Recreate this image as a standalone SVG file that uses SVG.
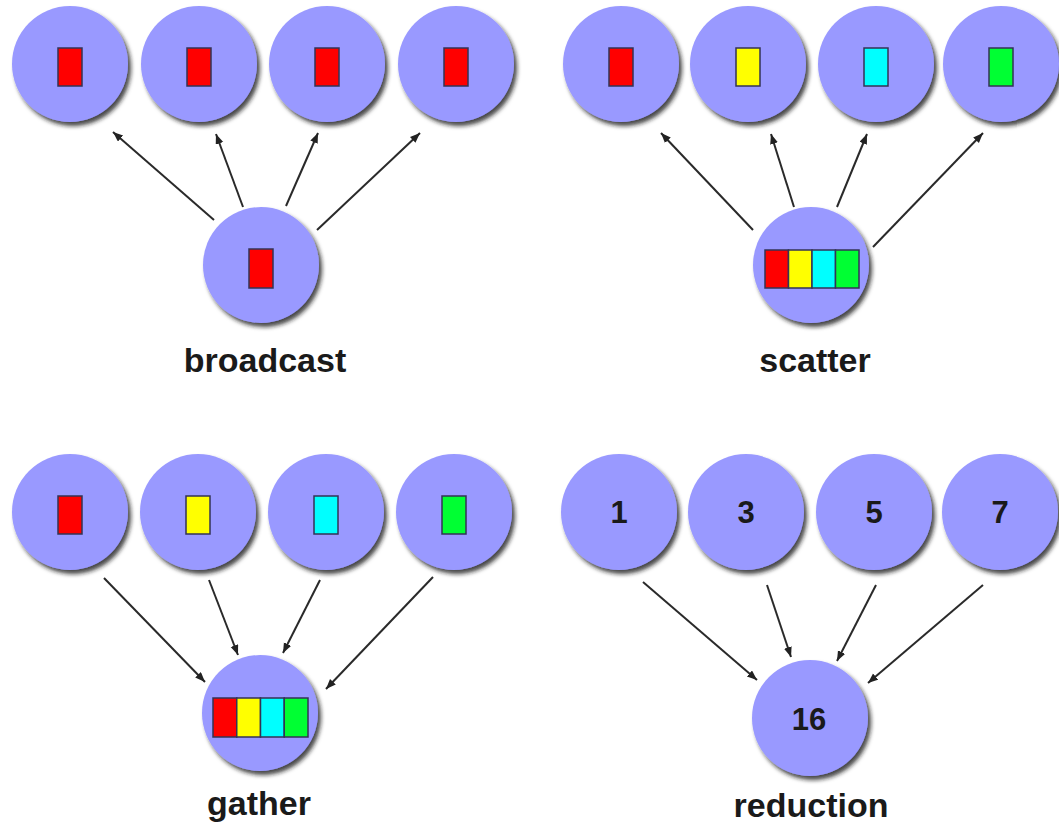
<svg xmlns="http://www.w3.org/2000/svg" width="1059" height="826" viewBox="0 0 1059 826">
<defs>
<filter id="sh" x="-20%" y="-20%" width="150%" height="150%">
<feDropShadow dx="3" dy="4" stdDeviation="2.2" flood-color="#1a1a1a" flood-opacity="0.8"/>
</filter>
<marker id="ah" markerUnits="userSpaceOnUse" markerWidth="12" markerHeight="10" refX="10" refY="4" orient="auto">
<path d="M0,0 L10,4 L0,8 Z" fill="#222"/>
</marker>
</defs>
<style>
.n{fill:#9999ff;filter:url(#sh)}
.b{stroke:#333355;stroke-width:1.5}
.r{fill:#ff0000}.y{fill:#ffff00}.c{fill:#00ffff}.g{fill:#00ff33}
.lbl{font-family:"Liberation Sans",Arial,sans-serif;font-weight:bold;font-size:34px;fill:#1a1a1a;text-anchor:middle}
.num{font-family:"Liberation Sans",Arial,sans-serif;font-weight:bold;font-size:31px;fill:#1a1a1a;text-anchor:middle}
.e{stroke:#2a2a2a;stroke-width:2;fill:none;marker-end:url(#ah)}
</style>
<rect width="1059" height="826" fill="#ffffff"/>

<!-- broadcast -->
<g id="bc-t1"><circle class="n" cx="70" cy="64" r="58"/><rect class="b r" x="58" y="48" width="24" height="38"/></g>
<g id="bc-t2"><circle class="n" cx="199" cy="64" r="58"/><rect class="b r" x="187" y="48" width="24" height="38"/></g>
<g id="bc-t3"><circle class="n" cx="327" cy="64" r="58"/><rect class="b r" x="315" y="48" width="24" height="38"/></g>
<g id="bc-t4"><circle class="n" cx="456" cy="64" r="58"/><rect class="b r" x="444" y="48" width="24" height="38"/></g>
<g id="bc-root"><circle class="n" cx="261" cy="265" r="58"/><rect class="b r" x="249" y="249" width="24" height="39"/></g>
<text class="lbl" x="265" y="372">broadcast</text>

<!-- scatter -->
<g id="sc-t1"><circle class="n" cx="621" cy="64" r="58"/><rect class="b r" x="609" y="48" width="24" height="38"/></g>
<g id="sc-t2"><circle class="n" cx="748" cy="64" r="58"/><rect class="b y" x="736" y="48" width="24" height="38"/></g>
<g id="sc-t3"><circle class="n" cx="876" cy="64" r="58"/><rect class="b c" x="864" y="48" width="24" height="38"/></g>
<g id="sc-t4"><circle class="n" cx="1001" cy="64" r="58"/><rect class="b g" x="989" y="48" width="24" height="38"/></g>
<g id="sc-root"><circle class="n" cx="811" cy="265" r="58"/>
<rect class="b r" x="765" y="250" width="23.5" height="38"/><rect class="b y" x="788.5" y="250" width="23.5" height="38"/><rect class="b c" x="812" y="250" width="23.5" height="38"/><rect class="b g" x="835.5" y="250" width="23.5" height="38"/></g>
<text class="lbl" x="815" y="372">scatter</text>

<!-- gather -->
<g id="ga-t1"><circle class="n" cx="70" cy="512" r="58"/><rect class="b r" x="58" y="496" width="24" height="38"/></g>
<g id="ga-t2"><circle class="n" cx="198" cy="512" r="58"/><rect class="b y" x="186" y="496" width="24" height="38"/></g>
<g id="ga-t3"><circle class="n" cx="326" cy="512" r="58"/><rect class="b c" x="314" y="496" width="24" height="38"/></g>
<g id="ga-t4"><circle class="n" cx="454" cy="512" r="58"/><rect class="b g" x="442" y="496" width="24" height="38"/></g>
<g id="ga-root"><circle class="n" cx="260" cy="713" r="58"/>
<rect class="b r" x="213" y="698" width="23.75" height="39"/><rect class="b y" x="236.75" y="698" width="23.75" height="39"/><rect class="b c" x="260.5" y="698" width="23.75" height="39"/><rect class="b g" x="284.25" y="698" width="23.75" height="39"/></g>
<text class="lbl" x="259" y="815">gather</text>

<!-- reduction -->
<g id="rd-t1"><circle class="n" cx="619" cy="512" r="58"/><text class="num" x="619" y="523">1</text></g>
<g id="rd-t2"><circle class="n" cx="746" cy="512" r="58"/><text class="num" x="746" y="523">3</text></g>
<g id="rd-t3"><circle class="n" cx="874" cy="512" r="58"/><text class="num" x="874" y="523">5</text></g>
<g id="rd-t4"><circle class="n" cx="1000" cy="512" r="58"/><text class="num" x="1000" y="523">7</text></g>
<g id="rd-root"><circle class="n" cx="810" cy="718" r="58"/><text class="num" x="809" y="730">16</text></g>
<text class="lbl" x="811" y="817">reduction</text>

<g id="connectors">
<line class="e" x1="214" y1="220" x2="113" y2="132"/>
<line class="e" x1="243" y1="207" x2="216" y2="134"/>
<line class="e" x1="286" y1="206" x2="318" y2="133"/>
<line class="e" x1="317" y1="230" x2="420" y2="133"/>

<line class="e" x1="753" y1="230" x2="661" y2="133"/>
<line class="e" x1="794" y1="207" x2="771" y2="134"/>
<line class="e" x1="837" y1="207" x2="867" y2="134"/>
<line class="e" x1="873" y1="247" x2="983" y2="133"/>

<line class="e" x1="104" y1="578" x2="205" y2="682"/>
<line class="e" x1="209" y1="580" x2="238" y2="655"/>
<line class="e" x1="320" y1="580" x2="283" y2="653"/>
<line class="e" x1="433" y1="577" x2="326" y2="689"/>

<line class="e" x1="643" y1="582" x2="757" y2="680"/>
<line class="e" x1="767" y1="585" x2="791" y2="657"/>
<line class="e" x1="876" y1="585" x2="837" y2="661"/>
<line class="e" x1="983" y1="585" x2="868" y2="683"/>
</g>
</svg>
